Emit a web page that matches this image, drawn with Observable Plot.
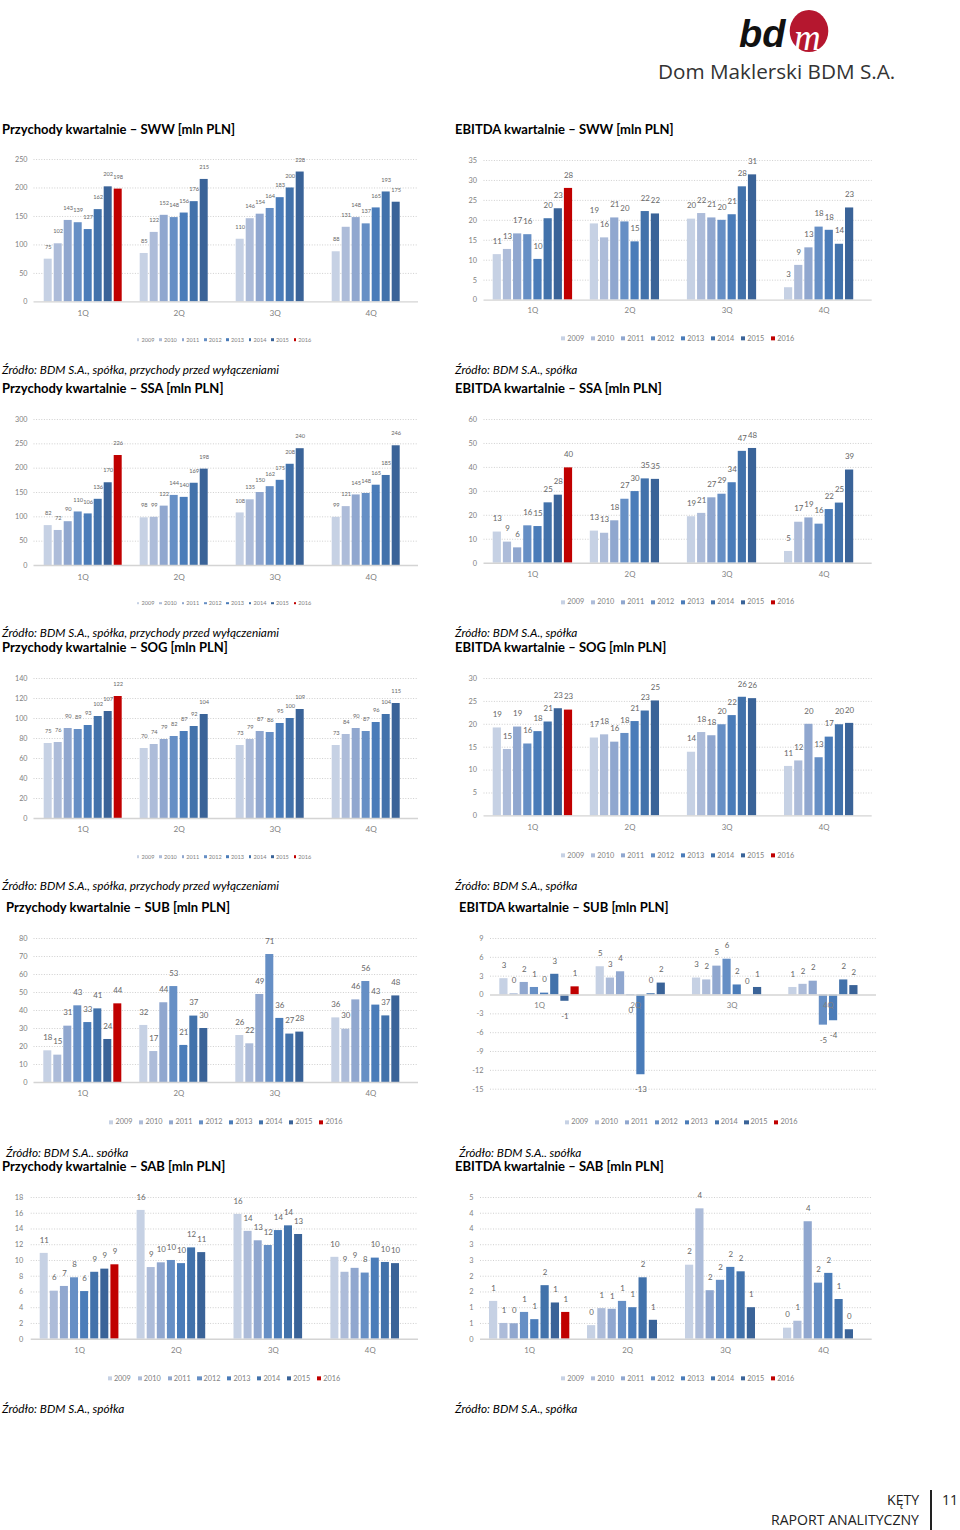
<!DOCTYPE html>
<html lang="pl">
<head>
<meta charset="utf-8">
<script src="https://cdn.jsdelivr.net/npm/d3@7"></script>
<script src="https://cdn.jsdelivr.net/npm/@observablehq/plot@0.6"></script>
<style>
  html, body { margin: 0; padding: 0; background: #fff; }
  #page { position: relative; width: 960px; height: 1530px; overflow: hidden; font-family: Lato, "Open Sans", sans-serif; color: #000; }
  #page > svg, .chart { position: absolute; }
  .t { position: absolute; white-space: nowrap; transform: translateY(-50%); line-height: 1; }
  .title { font-weight: 700; font-size: 13px; margin-top: -1px; }
  .source { font-style: italic; font-size: 11.8px; margin-top: -0.5px; }
  .lg { position: absolute; white-space: nowrap; color: #808080; line-height: 1; transform: translateY(-50%); display: flex; align-items: center; }
  .lg i { display: inline-block; margin-right: 2px; }
</style>
</head>
<body>
<div id="page"></div>
<script>
const years = ["2009", "2010", "2011", "2012", "2013", "2014", "2015", "2016"];
const quarters = ["1Q", "2Q", "3Q", "4Q"];
const palette = ["#c6d1e4", "#adbcd9", "#90a7cf", "#668fc5", "#4a7cb9", "#4272ab", "#3a6398", "#c00000"];

const swwRevenue = [
  [75, 102, 143, 139, 127, 162, 202, 198],
  [85, 122, 152, 148, 156, 176, 215],
  [110, 146, 154, 164, 183, 200, 228],
  [88, 131, 148, 137, 165, 193, 175]
];
const swwEbitda = [
  [11.4, 12.7, 16.6, 16.4, 10.2, 20.4, 22.9, 28.0],
  [19.1, 15.6, 20.6, 19.6, 14.6, 22.2, 21.6],
  [20.3, 21.7, 20.6, 20.0, 21.4, 28.4, 31.4],
  [3.1, 8.7, 13.1, 18.3, 17.5, 14.0, 23.1]
];
const ssaRevenue = [
  [82, 72, 90, 110, 106, 136, 170, 226],
  [98, 99, 122, 144, 140, 169, 198],
  [108, 135, 150, 162, 175, 208, 240],
  [99, 121, 145, 148, 165, 185, 246]
];
const ssaEbitda = [
  [13.0, 8.8, 6.4, 15.6, 15.3, 25.2, 28.4, 39.8],
  [13.4, 12.5, 17.7, 26.7, 29.9, 35.2, 35.0],
  [19.4, 20.8, 27.3, 28.8, 33.6, 46.7, 47.9],
  [4.9, 17.1, 18.9, 16.3, 22.4, 25.1, 38.9]
];
const sogRevenue = [
  [75, 76, 90, 89, 93, 102, 107, 122],
  [70, 74, 79, 82, 87, 92, 104],
  [73, 79, 87, 86, 95, 100, 109],
  [73, 84, 90, 87, 96, 104, 115]
];
const sogEbitda = [
  [19.2, 14.5, 19.4, 15.7, 18.4, 20.5, 23.4, 23.1],
  [17.0, 17.7, 16.1, 18.0, 20.6, 22.9, 25.1],
  [13.9, 18.2, 17.5, 19.9, 21.9, 25.9, 25.6],
  [10.8, 12.0, 20.0, 12.7, 17.2, 19.9, 20.2]
];
const subRevenue = [
  [17.6, 15.2, 31.3, 42.6, 33.3, 40.9, 23.9, 43.7],
  [31.7, 17.2, 44.3, 53.3, 20.6, 36.9, 30.0],
  [26.1, 21.5, 48.9, 71.1, 35.6, 26.9, 28.0],
  [35.9, 29.6, 45.9, 56.1, 43.0, 37.0, 48.1]
];
const subEbitda = [
  [2.6, 0.2, 2.0, 1.2, 0.3, 3.3, -1.0, 1.3],
  [4.5, 2.7, 3.7, -0.1, -12.7, 0.2, 1.9],
  [2.7, 2.4, 4.6, 5.7, 1.6, 0.0, 1.2],
  [1.2, 1.7, 2.2, -4.8, -4.1, 2.4, 1.5]
];
const sabRevenue = [
  [10.9, 6.1, 6.7, 7.8, 6.05, 8.5, 8.9, 9.45],
  [16.36, 9.1, 9.7, 10.0, 9.6, 11.6, 11.0],
  [15.85, 13.7, 12.5, 11.9, 13.8, 14.4, 13.3],
  [10.4, 8.5, 9.0, 8.4, 10.3, 9.75, 9.6]
];
const sabEbitda = [
  [1.2, 0.5, 0.49, 0.85, 0.62, 1.7, 1.15, 0.85],
  [0.43, 0.97, 0.95, 1.2, 1.0, 1.95, 0.6],
  [2.35, 4.14, 1.54, 1.87, 2.28, 2.14, 1.0],
  [0.35, 0.57, 3.73, 1.78, 2.09, 1.26, 0.3]
];

const ticksSwwRev = [0, 50, 100, 150, 200, 250];
const ticksSwwEb = [0, 5, 10, 15, 20, 25, 30, 35];
const ticksSsaRev = [0, 50, 100, 150, 200, 250, 300];
const ticksSsaEb = [0, 10, 20, 30, 40, 50, 60];
const ticksSogRev = [0, 20, 40, 60, 80, 100, 120, 140];
const ticksSogEb = [0, 5, 10, 15, 20, 25, 30];
const ticksSubRev = [0, 10, 20, 30, 40, 50, 60, 70, 80];
const ticksSubEb = [-15, -12, -9, -6, -3, 0, 3, 6, 9];
const ticksSabRev = [0, 2, 4, 6, 8, 10, 12, 14, 16, 18];
const ticksSabEb = [0, 0.5, 1, 1.5, 2, 2.5, 3, 3.5, 4, 4.5];

const srcRev = "Źródło: BDM S.A., spółka, przychody przed wyłączeniami";
const srcEb = "Źródło: BDM S.A., spółka";

const page = document.getElementById("page");
const round = v => String(Math.round(v) + 0);

function addText(cls, txt, x, y, extra) {
  const d = document.createElement("div");
  d.className = "t " + cls;
  d.textContent = txt;
  d.style.left = x + "px";
  d.style.top = y + "px";
  if (extra) Object.assign(d.style, extra);
  page.appendChild(d);
  return d;
}

function panel(c) {
  // x is measured in bar slots: one unit is one bar plus its gap.
  const groupSlots = c.groupStep / c.barStep;
  const barShare = c.barW / c.barStep;
  const rows = c.values.flatMap((vs, q) => vs.map((v, i) => ({
    year: years[i], v,
    x1: q * groupSlots + i,
    x2: q * groupSlots + i + barShare,
    xc: q * groupSlots + i + barShare / 2
  })));
  const centers = quarters.map((_, q) => q * groupSlots + (7 + barShare) / 2);
  const top = c.yTop - 16;
  const height = c.yBot + 24 - top;
  const width = 450;
  const chart = Plot.plot({
    width, height,
    marginLeft: c.gridL - c.left,
    marginRight: c.left + width - c.gridR,
    marginTop: c.yTop - top,
    marginBottom: top + height - c.yBot,
    style: { background: "transparent", fontFamily: "Lato, 'Open Sans', sans-serif" },
    x: { domain: [(c.gridL - c.first) / c.barStep, (c.gridR - c.first) / c.barStep], axis: null },
    y: { domain: [c.ticks[0], c.ticks[c.ticks.length - 1]], axis: null },
    color: { domain: years, range: palette },
    marks: [
      Plot.ruleY(c.ticks.filter(t => t !== 0), { stroke: "#cfcfcf", strokeWidth: 1, strokeDasharray: "1,1.6" }),
      Plot.rect(rows, { x1: "x1", x2: "x2", y1: () => 0, y2: "v", fill: "year" }),
      Plot.ruleY([0], { stroke: "#d4d4d4", strokeWidth: 1.4 }),
      Plot.axisX(centers, { anchor: "bottom", label: null, tickSize: 0, tickPadding: c.qPad, lineAnchor: "middle", tickFormat: (d, i) => quarters[i], fontSize: c.qSize, fill: "#7f7f7f", dy: c.qDy || 0 }),
      Plot.axisY(c.ticks, { anchor: "left", label: null, tickSize: 0, tickPadding: c.tickGap, tickFormat: round, fontSize: c.tickSize, fill: "#7f7f7f" }),
      Plot.text(rows.filter(d => d.v >= 0), { x: "xc", y: "v", text: d => round(d.v), dy: -c.labelDy, fontSize: c.labelSize, fill: "#666" }),
      Plot.text(rows.filter(d => d.v < 0), { x: "xc", y: "v", text: d => round(d.v), dy: 15, fontSize: c.labelSize, fill: "#666" })
    ]
  });
  chart.classList.add("chart");
  chart.style.left = c.left + "px";
  chart.style.top = top + "px";
  page.appendChild(chart);

  addText("title", c.title, c.titleX, c.titleY);
  addText("source", c.source, c.titleX, c.sourceY);

  const [x0, step, y, size, sw] = c.legend;
  years.forEach((yr, i) => {
    const it = document.createElement("div");
    it.className = "lg";
    it.style.left = (x0 + step * i) + "px";
    it.style.top = y + "px";
    it.style.fontSize = size + "px";
    const s = document.createElement("i");
    s.style.width = s.style.height = sw + "px";
    s.style.background = palette[i];
    it.appendChild(s);
    it.appendChild(document.createTextNode(yr));
    page.appendChild(it);
  });
}

const smallFont = { labelSize: 5.7, tickSize: 7.2, qSize: 8.2, labelDy: 12.2 };
const bigFont = { labelSize: 7.9, tickSize: 7.4, qSize: 7.8, labelDy: 13.3 };
const colL = { left: 0, gridL: 33.5, gridR: 418, first: 43.7, groupStep: 96, barW: 8, barStep: 10, tickGap: 6.5 };
const colR = { left: 450, gridL: 483.5, gridR: 871.7, first: 492.7, groupStep: 97.1, barW: 8.2, barStep: 10.17, tickGap: 7 };

[
  { ...colL, ...smallFont, title: "Przychody kwartalnie – SWW [mln PLN]", source: srcRev, titleX: 2, titleY: 129.5, sourceY: 370.5, values: swwRevenue, ticks: ticksSwwRev, yTop: 159.3, yBot: 301.7, qPad: 11, legend: [136.7, 22.4, 340, 5.6, 2.8] },
  { ...colR, ...bigFont, title: "EBITDA kwartalnie – SWW [mln PLN]", source: srcEb, titleX: 455, titleY: 129.5, sourceY: 370.5, values: swwEbitda, ticks: ticksSwwEb, yTop: 159.7, yBot: 299.3, qPad: 10.7, legend: [561, 30, 338.7, 7.3, 4.2] },
  { ...colL, ...smallFont, title: "Przychody kwartalnie – SSA [mln PLN]", source: srcRev, titleX: 2, titleY: 388.5, sourceY: 633.5, values: ssaRevenue, ticks: ticksSsaRev, yTop: 419, yBot: 565, qPad: 11.7, legend: [136.7, 22.4, 603.3, 5.6, 2.8] },
  { ...colR, ...bigFont, title: "EBITDA kwartalnie – SSA [mln PLN]", source: srcEb, titleX: 455, titleY: 388.5, sourceY: 633.5, values: ssaEbitda, ticks: ticksSsaEb, yTop: 419, yBot: 562.7, qPad: 11, legend: [561, 30, 602.3, 7.3, 4.2] },
  { ...colL, ...smallFont, labelDy: 12, title: "Przychody kwartalnie – SOG [mln PLN]", source: srcRev, titleX: 2, titleY: 647.5, sourceY: 886.5, values: sogRevenue, ticks: ticksSogRev, yTop: 678.3, yBot: 818.3, qPad: 11, legend: [136.7, 22.4, 856.7, 5.6, 2.8] },
  { ...colR, ...bigFont, title: "EBITDA kwartalnie – SOG [mln PLN]", source: srcEb, titleX: 455, titleY: 647.5, sourceY: 886.5, values: sogEbitda, ticks: ticksSogEb, yTop: 678.3, yBot: 815.7, qPad: 11.3, legend: [561, 30, 855.7, 7.3, 4.2] },
  { ...colL, ...bigFont, first: 43.3, title: "Przychody kwartalnie – SUB [mln PLN]", source: srcEb, titleX: 6, titleY: 907.5, sourceY: 1153, values: subRevenue, ticks: ticksSubRev, yTop: 938.3, yBot: 1082.3, qPad: 10.7, legend: [109.3, 30, 1122, 7.3, 4.2] },
  { ...colR, ...bigFont, gridL: 490, gridR: 876, first: 499.3, groupStep: 96.33, title: "EBITDA kwartalnie – SUB [mln PLN]", source: srcEb, titleX: 459, titleY: 907.5, sourceY: 1153, values: subEbitda, ticks: ticksSubEb, yTop: 938, yBot: 1088.7, qPad: 0, qDy: -83.4, legend: [565, 29.9, 1122, 7.3, 4.2] },
  { ...colL, ...bigFont, gridL: 30.7, first: 39.7, groupStep: 96.9, barStep: 10.1, tickGap: 8, title: "Przychody kwartalnie – SAB [mln PLN]", source: srcEb, titleX: 2, titleY: 1166.5, sourceY: 1409.5, values: sabRevenue, ticks: ticksSabRev, yTop: 1197, yBot: 1338.7, qPad: 11.3, legend: [107.7, 29.9, 1378.7, 7.3, 4.2] },
  { ...colR, ...bigFont, gridL: 480, first: 489, groupStep: 98, barStep: 10.3, title: "EBITDA kwartalnie – SAB [mln PLN]", source: srcEb, titleX: 455, titleY: 1166.5, sourceY: 1409.5, values: sabEbitda, ticks: ticksSabEb, yTop: 1197, yBot: 1338.7, qPad: 11.3, legend: [561, 30, 1378.7, 7.3, 4.2] }
].forEach(panel);

// logo and footer
page.insertAdjacentHTML("beforeend", `
<div style="position:absolute;left:0;top:1157px;width:900px;height:2.5px;background:#fff"></div>
<svg style="left:730px;top:0" width="110" height="60" viewBox="0 0 110 60">
  <ellipse cx="79" cy="31" rx="19.3" ry="21" fill="#b5172f"/>
  <text x="9" y="47" font-family="Liberation Sans" font-weight="700" font-style="italic" font-size="38" fill="#111">bd</text>
  <text x="64" y="50" font-family="Liberation Serif" font-style="italic" font-size="37" fill="#fff">m</text>
</svg>
<div style="position:absolute;left:930px;top:1490px;width:1.5px;height:40px;background:#222"></div>`);
addText("", "Dom Maklerski BDM S.A.", 658, 70.5, { fontFamily: "'Open Sans', sans-serif", fontSize: "20.7px", color: "#333" });
addText("", "KĘTY", 887, 1500, { fontFamily: "'Open Sans', sans-serif", fontSize: "14.1px", color: "#222" });
addText("", "RAPORT ANALITYCZNY", 771, 1520, { fontFamily: "'Open Sans', sans-serif", fontSize: "14.1px", color: "#222" });
addText("", "11", 942, 1500, { fontFamily: "'Open Sans', sans-serif", fontSize: "14.1px", color: "#222" });
</script>
</body>
</html>
